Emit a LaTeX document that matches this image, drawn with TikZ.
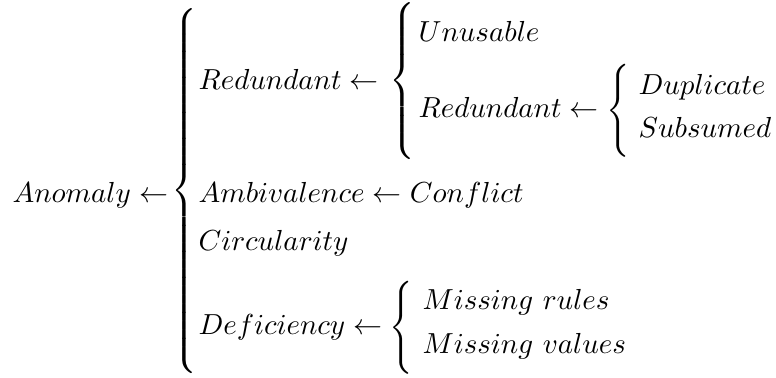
\documentclass[tikz,border=0pt]{standalone}
\usepackage{amsmath}
\usepackage{graphicx}
% brace of a given total height (in pt), centred on the math axis,
% optionally stretched vertically by a factor
\newcommand\tallbrace[2][1]{\scalebox{1}[#1]{$\delimiterfactor=1000 \delimitershortfall=0pt
  \left\{\vcenter{\hrule height #2 width 0pt}\right.$}}
\tikzset{
  lbl/.style={anchor=base west, inner sep=0pt},
  brc/.style={anchor=west, inner sep=0pt},
}
\begin{document}
\begin{tikzpicture}[x=0.345pt, y=-0.345pt]
  \useasboundingbox (0,0) rectangle (776,378);

  % root
  \node[lbl] (anomaly) at (12,203) {$Anomaly \leftarrow$};
  \node[brc] (b0) at (171,191) {\tallbrace{121pt}};

  % first branch: redundant rules
  \node[lbl] (red1) at (198,90) {$Redundant \leftarrow$};
  \node[brc] (b1) at (389,81) {\tallbrace{50pt}};
  \node[lbl] (unus) at (418,42) {$Unusable$};
  \node[lbl] (red2) at (418,118) {$Redundant \leftarrow$};
  \node[brc] (b2) at (606,111) {\tallbrace[1.07]{30pt}};
  \node[lbl] (dup) at (638,95) {$Duplicate$};
  \node[lbl] (sub) at (638,138) {$Subsumed$};

  % remaining branches
  \node[lbl] (amb) at (198,203) {$Ambivalence \leftarrow Conflict$};
  \node[lbl] (circ) at (198,251) {$Circularity$};
  \node[lbl] (defi) at (198,335) {$Deficiency \leftarrow$};
  \node[brc] (b3) at (389,328) {\tallbrace[1.07]{30pt}};
  \node[lbl] (mrul) at (422,310) {$Missing\ rules$};
  \node[lbl] (mval) at (422,354) {$Missing\ values$};
\end{tikzpicture}
\end{document}
